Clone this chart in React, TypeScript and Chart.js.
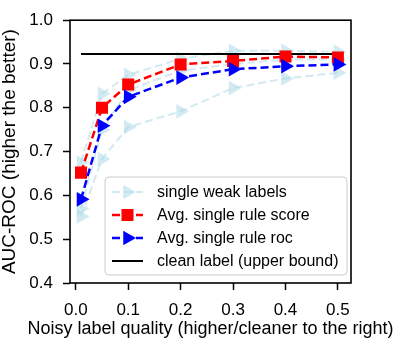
import React, { useEffect, useRef } from 'react';
import { Chart, registerables } from 'chart.js';
Chart.register(...registerables);

const FONT = '"Liberation Sans", Arial, Helvetica, sans-serif';

const xValues = [0.01, 0.05, 0.1, 0.2, 0.3, 0.4, 0.5];
const ruleScore = [0.652, 0.8, 0.853, 0.899, 0.907, 0.917, 0.915];
const ruleRoc = [0.591, 0.759, 0.825, 0.869, 0.888, 0.895, 0.899];
const weakUpper = [0.675, 0.832, 0.875, 0.912, 0.93, 0.93, 0.928];
const weakMiddle = [0.57, 0.75, 0.84, 0.885, 0.9, 0.91, 0.91];
const weakLower = [0.552, 0.683, 0.756, 0.792, 0.845, 0.867, 0.88];
const cleanLabelX = [0.01, 0.5];
const cleanLabelValue = 0.923;
const xTicks = [0.0, 0.1, 0.2, 0.3, 0.4, 0.5];
const yTicks = [0.4, 0.5, 0.6, 0.7, 0.8, 0.9, 1.0];
const xTitle = 'Noisy label quality (higher/cleaner to the right)';
const yTitle = 'AUC-ROC (higher the better)';
const legendLabels = [
  'single weak labels',
  'Avg. single rule score',
  'Avg. single rule roc',
  'clean label (upper bound)',
];

const LIGHT = 'rgba(173,216,230,0.55)';

const pts = (ys: number[]) => xValues.map((x, i) => ({ x, y: ys[i] }));

const framePlugin = {
  id: 'frame',
  afterDatasetsDraw(chart: any) {
    const { ctx, chartArea: a } = chart;
    ctx.save();
    ctx.strokeStyle = '#000';
    ctx.lineWidth = 1.6;
    ctx.strokeRect(a.left, a.top, a.right - a.left, a.bottom - a.top);
    ctx.restore();
  },
};

const titlesPlugin = {
  id: 'titles',
  afterDraw(chart: any) {
    const { ctx, chartArea: a } = chart;
    ctx.save();
    ctx.fillStyle = '#000';
    ctx.textAlign = 'center';
    ctx.textBaseline = 'middle';
    ctx.font = `18px ${FONT}`;
    ctx.fillText(xTitle, (a.left + a.right) / 2, 329);
    ctx.translate(10, (a.top + a.bottom) / 2);
    ctx.rotate(-Math.PI / 2);
    ctx.font = `19px ${FONT}`;
    ctx.fillText(yTitle, 0, 0);
    ctx.restore();
  },
};

function drawTri(ctx: CanvasRenderingContext2D, x: number, y: number, r: number) {
  ctx.beginPath();
  ctx.moveTo(x + r, y);
  ctx.lineTo(x - 0.5 * r, y + 0.866 * r);
  ctx.lineTo(x - 0.5 * r, y - 0.866 * r);
  ctx.closePath();
  ctx.fill();
}

const legendPlugin = {
  id: 'innerLegend',
  afterDraw(chart: any) {
    const ctx: CanvasRenderingContext2D = chart.ctx;
    const bx = 105, by = 177, bw = 242, bh = 98, rr = 4;
    ctx.save();
    ctx.beginPath();
    ctx.moveTo(bx + rr, by);
    ctx.lineTo(bx + bw - rr, by);
    ctx.arcTo(bx + bw, by, bx + bw, by + rr, rr);
    ctx.lineTo(bx + bw, by + bh - rr);
    ctx.arcTo(bx + bw, by + bh, bx + bw - rr, by + bh, rr);
    ctx.lineTo(bx + rr, by + bh);
    ctx.arcTo(bx, by + bh, bx, by + bh - rr, rr);
    ctx.lineTo(bx, by + rr);
    ctx.arcTo(bx, by, bx + rr, by, rr);
    ctx.closePath();
    ctx.fillStyle = 'rgba(255,255,255,0.85)';
    ctx.fill();
    ctx.strokeStyle = '#cccccc';
    ctx.lineWidth = 1;
    ctx.stroke();

    const x0 = 112, x1 = 143, xm = (x0 + x1) / 2, tx = 157;
    const styles = [
      { color: LIGHT, dash: [8, 4], marker: 'tri', w: 2 },
      { color: '#ff0000', dash: [8, 4], marker: 'rect', w: 2.5 },
      { color: '#0000ff', dash: [8, 4], marker: 'tri', w: 2.5 },
      { color: '#000000', dash: [], marker: 'none', w: 2 },
    ];
    styles.forEach((s, i) => {
      const y = 192 + i * 23;
      ctx.beginPath();
      ctx.setLineDash(s.dash);
      ctx.strokeStyle = s.color;
      ctx.lineWidth = s.w;
      ctx.moveTo(x0, y);
      ctx.lineTo(x1, y);
      ctx.stroke();
      ctx.setLineDash([]);
      ctx.fillStyle = s.color;
      if (s.marker === 'tri') drawTri(ctx, xm, y, 8.5);
      if (s.marker === 'rect') ctx.fillRect(xm - 6, y - 6, 12, 12);
      ctx.fillStyle = '#000';
      ctx.font = `16px ${FONT}`;
      ctx.textBaseline = 'middle';
      ctx.textAlign = 'left';
      ctx.fillText(legendLabels[i], tx, y + 1);
    });
    ctx.restore();
  },
};

export default function App() {
  const ref = useRef<HTMLCanvasElement>(null);
  useEffect(() => {
    document.body.style.margin = '0';
    const weakDs = (ys: number[]) => ({
      data: pts(ys),
      borderColor: LIGHT,
      backgroundColor: LIGHT,
      borderWidth: 2,
      borderDash: [8, 4],
      pointStyle: 'triangle',
      pointRotation: 90,
      pointRadius: 8.5,
      pointBorderWidth: 0,
      pointBackgroundColor: LIGHT,
      order: 4,
      tension: 0,
    });
    const chart = new Chart(ref.current!, {
      type: 'line',
      data: {
        datasets: [
          weakDs(weakUpper),
          weakDs(weakMiddle),
          weakDs(weakLower),
          {
            data: cleanLabelX.map((x) => ({ x, y: cleanLabelValue })),
            borderColor: '#000',
            borderWidth: 2,
            pointRadius: 0,
            order: 3,
          },
          {
            data: pts(ruleScore),
            borderColor: '#ff0000',
            backgroundColor: '#ff0000',
            borderWidth: 2.5,
            borderDash: [8, 4],
            pointStyle: 'rect',
            pointRadius: 8.5,
            pointBorderWidth: 0,
            pointBackgroundColor: '#ff0000',
            order: 2,
          },
          {
            data: pts(ruleRoc),
            borderColor: '#0000ff',
            backgroundColor: '#0000ff',
            borderWidth: 2.5,
            borderDash: [8, 4],
            pointStyle: 'triangle',
            pointRotation: 90,
            pointRadius: 8.5,
            pointBorderWidth: 0,
            pointBackgroundColor: '#0000ff',
            order: 1,
          },
        ] as any,
      },
      options: {
        animation: false,
        responsive: false,
        devicePixelRatio: 1,
        layout: { padding: { top: 7, right: 48, left: 0, bottom: 0 } },
        plugins: { legend: { display: false }, tooltip: { enabled: false } },
        scales: {
          x: {
            type: 'linear',
            min: -0.011,
            max: 0.525,
            afterBuildTicks: (s: any) => {
              s.ticks = xTicks.map((v) => ({ value: v }));
            },
            afterFit: (s: any) => {
              s.height = 60;
            },
            ticks: {
              color: '#000',
              font: { family: FONT, size: 17 },
              padding: 10,
              maxRotation: 0,
              autoSkip: false,
              callback: (v: any) => Number(v).toFixed(1),
            },
            grid: {
              drawOnChartArea: false,
              drawTicks: true,
              tickLength: 7,
              tickWidth: 1.5,
              tickColor: '#000',
            },
            border: { display: false },
            title: { display: false },
          },
          y: {
            type: 'linear',
            min: 0.4,
            max: 1.0,
            afterBuildTicks: (s: any) => {
              s.ticks = yTicks.map((v) => ({ value: v }));
            },
            afterFit: (s: any) => {
              s.width = 70;
            },
            ticks: {
              color: '#000',
              font: { family: FONT, size: 17 },
              padding: 10,
              autoSkip: false,
              callback: (v: any) => Number(v).toFixed(1),
            },
            grid: {
              drawOnChartArea: false,
              drawTicks: true,
              tickLength: 7,
              tickWidth: 1.5,
              tickColor: '#000',
            },
            border: { display: false },
            title: { display: false },
          },
        },
      } as any,
      plugins: [framePlugin, legendPlugin, titlesPlugin],
    });
    return () => chart.destroy();
  }, []);
  return (
    <div style={{ position: 'absolute', left: 0, top: 0, width: 399, height: 343 }}>
      <canvas ref={ref} width={399} height={343} style={{ width: 399, height: 343, display: 'block' }} />
    </div>
  );
}
